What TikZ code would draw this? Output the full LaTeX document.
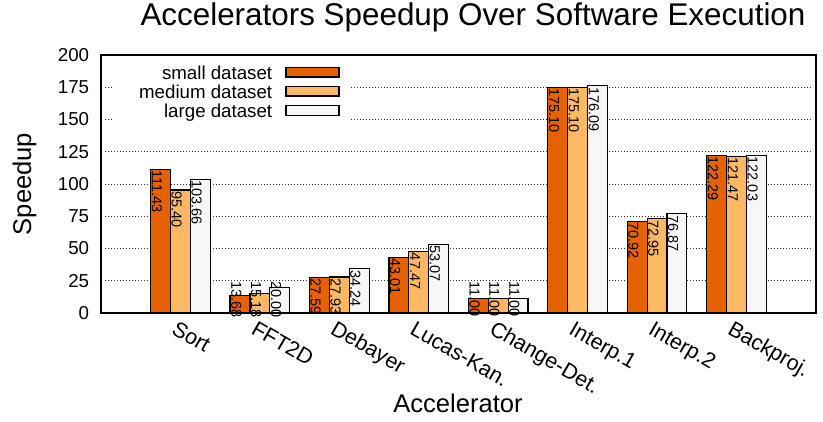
\documentclass[tikz,border=0pt]{standalone}
\usepackage{fontspec}
\setmainfont{Liberation Sans}
\usetikzlibrary{positioning}
\definecolor{smallset}{RGB}{230,97,1}
\definecolor{mediumset}{RGB}{253,184,99}
\definecolor{largeset}{RGB}{247,247,247}

\begin{document}
\begin{tikzpicture}[
  x=1pt, y=1pt,
  bar/.style={draw=black, line width=1.2pt},
  gridline/.style={black!80, line width=0.6pt, dash pattern=on 0.8pt off 2.2pt},
  frame/.style={draw=black, line width=2pt},
  ticklabel/.style={font=\fontsize{18.7}{21}\selectfont, inner sep=0pt},
  barlabel/.style={xshift=1.2pt, yshift=-1pt, rotate=-90, anchor=base west,
                   inner sep=0pt, font=\fontsize{14.5}{16}\selectfont},
  groupname/.style={xshift=-10pt, yshift=-20pt, rotate=-30, anchor=base west,
                    inner sep=0pt, font=\fontsize{21.5}{24}\selectfont},
  axislabel/.style={font=\fontsize{25.6}{28}\selectfont, inner sep=0pt},
  keybox/.style={bar, minimum width=53pt, minimum height=9.4pt, inner sep=0pt},
  keytext/.style={ticklabel, text depth=0pt, left=13pt of #1}
]
  \useasboundingbox (0,0) rectangle (823,422);

  \node[anchor=base, font=\fontsize{31.4}{35}\selectfont] (title) at (473,396)
    {Accelerators Speedup Over Software Execution};
  \node[axislabel, rotate=90] (ylab) at (24.5,238) {Speedup};
  \node[axislabel, anchor=base] (xlab) at (458,9.7) {Accelerator};

  \begin{scope}[shift={(101,109)}, x=79.44pt, y=1.29pt]
    % grid and y ticks
    \foreach \g in {25,50,...,175}
      \draw[gridline] (0.05,\g) -- (8.96,\g);
    \foreach \t in {0,25,...,200}
      \node[ticklabel, anchor=east, xshift=-11.7pt] (tick\t) at (0,\t) {\t};

    % room for the key
    \fill[white] (0.15,197) rectangle (3.13,144);

    % bars, one group per accelerator
    \foreach \name/\a/\b/\c [count=\i] in {Sort/111.43/95.40/103.66,
        FFT2D/13.68/15.18/20.00, Debayer/27.59/27.93/34.24,
        Lucas-Kan./43.01/47.47/53.07, Change-Det./11.00/11.00/11.00,
        Interp.1/175.10/175.10/176.09, Interp.2/70.92/72.95/76.87,
        Backproj./122.29/121.47/122.03} {
      \foreach \v/\col/\k in {\a/smallset/0, \b/mediumset/1, \c/largeset/2} {
        \pgfmathsetmacro\ly{max(\v,25.5)}
        \draw[bar, fill=\col] (\i-0.375+0.25*\k,0) rectangle (\i-0.125+0.25*\k,\v);
        \node[barlabel] (val\i-\k) at (\i-0.375+0.25*\k,\ly) {\v};
      }
      \node[groupname] (acc\i) at (\i,0) {\name};
    }

    \draw[frame] (0,0) rectangle (9,200);
  \end{scope}

  % key
  \foreach \lab/\col [count=\j] in {small dataset/smallset,
      medium dataset/mediumset, large dataset/largeset} {
    \node[keybox, fill=\col] (keybox\j) at (312.5,349.7-19.1*\j+19.1) {};
    \node[keytext=keybox\j] (key\j) {\lab};
  }
\end{tikzpicture}
\end{document}
